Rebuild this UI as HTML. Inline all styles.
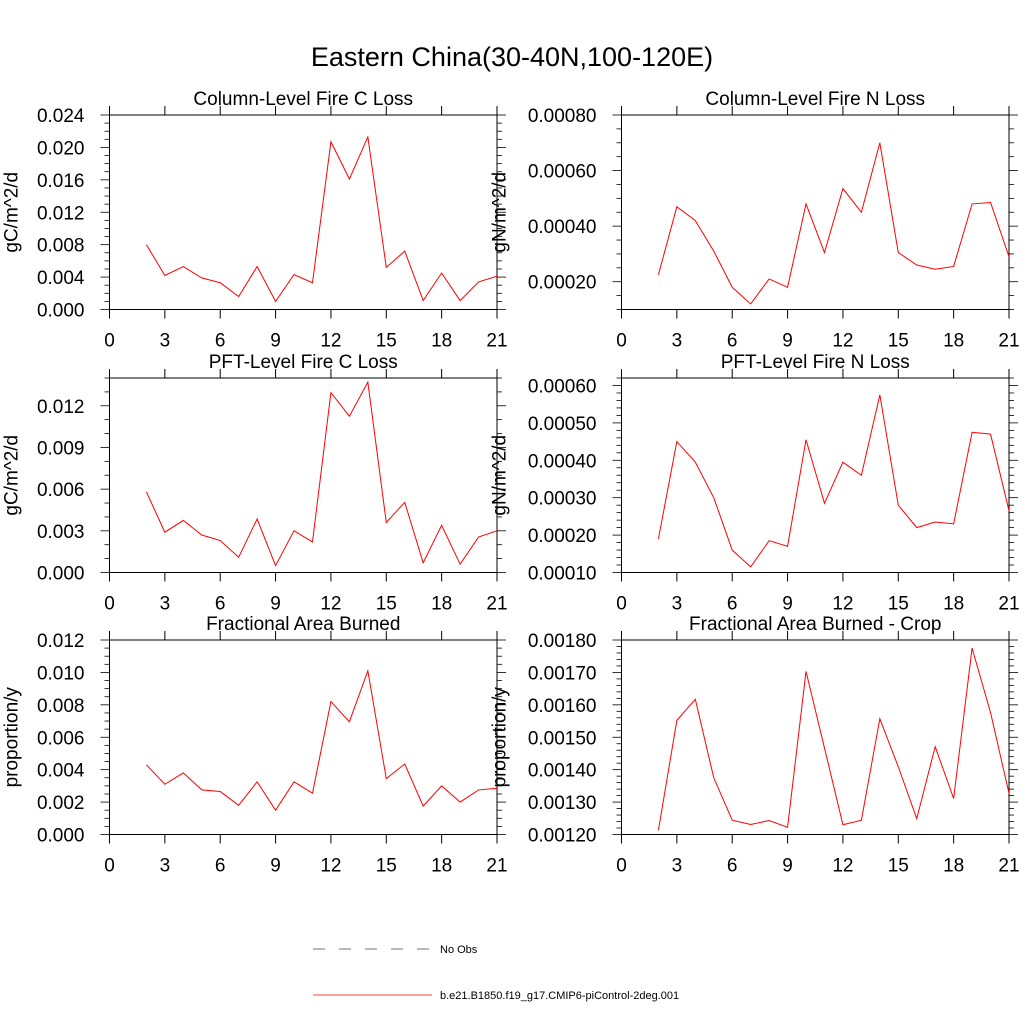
<!DOCTYPE html>
<html><head><meta charset="utf-8"><style>
body{margin:0;background:#fff}
svg{display:block;font-family:"Liberation Sans",sans-serif}
</style></head><body>
<svg id="fig" width="1024" height="1024" viewBox="0 0 1024 1024">
<text x="512" y="66" text-anchor="middle" font-size="27">Eastern China(30-40N,100-120E)</text>
<g id="panels"></g>
<g>
<line x1="313" y1="949" x2="432" y2="949" stroke="#444" stroke-width="0.8" stroke-dasharray="12,14"/>
<text x="440" y="953" font-size="11">No Obs</text>
<line x1="313" y1="995" x2="432" y2="995" stroke="red" stroke-width="0.8"/>
<text x="440" y="999" font-size="11">b.e21.B1850.f19_g17.CMIP6-piControl-2deg.001</text>
</g>
</svg>
<script>
const years = [2,3,4,5,6,7,8,9,10,11,12,13,14,15,16,17,18,19,20,21];
const xTicks = [0,3,6,9,12,15,18,21];
const colCLoss = [0.0080,0.0042,0.0053,0.0039,0.0033,0.0016,0.0053,0.0010,0.0043,0.0033,0.0207,0.0161,0.0213,0.0052,0.0072,0.0011,0.0045,0.0011,0.0034,0.0041];
const colNLoss = [0.000225,0.00047,0.00042,0.00031,0.00018,0.00012,0.00021,0.00018,0.00048,0.000305,0.000535,0.00045,0.00070,0.000305,0.00026,0.000245,0.000255,0.00048,0.000485,0.00029];
const pftCLoss = [0.0058,0.0029,0.00375,0.0027,0.0023,0.0011,0.00385,0.0005,0.0030,0.0022,0.01295,0.01125,0.0137,0.0036,0.00505,0.0007,0.0034,0.0006,0.00255,0.0030];
const pftNLoss = [0.00019,0.00045,0.000395,0.00030,0.00016,0.000115,0.000185,0.00017,0.000455,0.000285,0.000395,0.00036,0.000575,0.00028,0.00022,0.000235,0.00023,0.000475,0.00047,0.000265];
const areaBurned = [0.0043,0.0031,0.0038,0.00275,0.00265,0.0018,0.00325,0.0015,0.00325,0.00255,0.0082,0.00695,0.0101,0.00345,0.00435,0.00175,0.0030,0.0020,0.00275,0.00285];
const areaCrop = [0.001213,0.001552,0.001617,0.001375,0.001244,0.001231,0.001243,0.001222,0.001703,0.001467,0.00123,0.001244,0.001557,0.001409,0.001249,0.001471,0.001311,0.001775,0.001576,0.001327];
const yTicksTL = [0,0.004,0.008,0.012,0.016,0.020,0.024];
const yTicksTR = [0.0002,0.0004,0.0006,0.0008];
const yTicksML = [0,0.003,0.006,0.009,0.012];
const yTicksMR = [0.0001,0.0002,0.0003,0.0004,0.0005,0.0006];
const yTicksBL = [0,0.002,0.004,0.006,0.008,0.010,0.012];
const yTicksBR = [0.0012,0.0013,0.0014,0.0015,0.0016,0.0017,0.0018];

const panels = [
 {name:'col-c-loss',title:'Column-Level Fire C Loss',units:'gC/m^2/d',x0:109.5,y0:115,ymin:0,ymax:0.024,ticks:yTicksTL,dec:3,minor:4,data:colCLoss,yt:92},
 {name:'col-n-loss',title:'Column-Level Fire N Loss',units:'gN/m^2/d',x0:621.5,y0:115,ymin:0.0001,ymax:0.0008,ticks:yTicksTR,dec:5,minor:4,data:colNLoss,yt:116},
 {name:'pft-c-loss',title:'PFT-Level Fire C Loss',units:'gC/m^2/d',x0:109.5,y0:378,ymin:0,ymax:0.014,ticks:yTicksML,dec:3,minor:3,data:pftCLoss,yt:92},
 {name:'pft-n-loss',title:'PFT-Level Fire N Loss',units:'gN/m^2/d',x0:621.5,y0:378,ymin:0.0001,ymax:0.00062,ticks:yTicksMR,dec:5,minor:5,data:pftNLoss,yt:116},
 {name:'area-burned',title:'Fractional Area Burned',units:'proportion/y',x0:109.5,y0:640,ymin:0,ymax:0.012,ticks:yTicksBL,dec:3,minor:4,data:areaBurned,yt:92},
 {name:'area-burned-crop',title:'Fractional Area Burned - Crop',units:'proportion/y',x0:621.5,y0:640,ymin:0.0012,ymax:0.0018,ticks:yTicksBR,dec:5,minor:5,data:areaCrop,yt:116}
];
const W=387.5,H=194.5;
const NS='http://www.w3.org/2000/svg';
const root=document.getElementById('panels');
function mk(tag,attrs,parent){const e=document.createElementNS(NS,tag);for(const k in attrs)e.setAttribute(k,attrs[k]);parent.appendChild(e);return e;}
panels.forEach(p=>{
 const g=mk('g',{},root);
 
 
 const xs=v=>p.x0+v/21*W;
 const ys=v=>p.y0+H-(v-p.ymin)/(p.ymax-p.ymin)*H;
 const fr=mk('rect',{x:p.x0,y:p.y0,width:W,height:H,fill:'none',stroke:'#000','stroke-width':1},g);
 
 
 const t=mk('text',{x:p.x0+W/2,y:p.y0-10,'text-anchor':'middle','font-size':19},g);
 t.textContent=p.title;
 
 
 const yl=mk('text',{transform:`translate(${p.x0-p.yt},${p.y0+H/2}) rotate(-90)`,'text-anchor':'middle','font-size':19},g);
 yl.textContent=p.units;
 
 
 xTicks.forEach(v=>{
  const x=xs(v);
  mk('line',{x1:x,y1:p.y0+H,x2:x,y2:p.y0+H+9,stroke:'#000'},g);
  mk('line',{x1:x,y1:p.y0,x2:x,y2:p.y0-9,stroke:'#000'},g);
  const tl=mk('text',{x:x,y:p.y0+H+37,'text-anchor':'middle','font-size':19},g);
  tl.textContent=v;
  
  
 });
 const step=p.ticks[1]-p.ticks[0];
 for(let i=-2;i<p.ticks.length+2;i++){
  for(let m=0;m<p.minor;m++){
   const v=p.ticks[0]+i*step+m*step/p.minor;
   if(v<p.ymin-1e-12||v>p.ymax+1e-12)continue;
   const y=ys(v);const L=m==0?9:5;
   mk('line',{x1:p.x0,y1:y,x2:p.x0-L,y2:y,stroke:'#000','stroke-width':0.8},g);
   mk('line',{x1:p.x0+W,y1:y,x2:p.x0+W+L,y2:y,stroke:'#000','stroke-width':0.8},g);
  }
 }
 p.ticks.forEach(v=>{
  const tl=mk('text',{x:p.x0-25,y:ys(v)+7,'text-anchor':'end','font-size':19},g);
  tl.textContent=v.toFixed(p.dec);
  
  
 });
 const pts=p.data.map((v,i)=>xs(years[i])+','+ys(v)).join(' ');
 const ln=mk('polyline',{points:pts,fill:'none',stroke:'red','stroke-width':1},g);
 
 
});
</script>
</body></html>
